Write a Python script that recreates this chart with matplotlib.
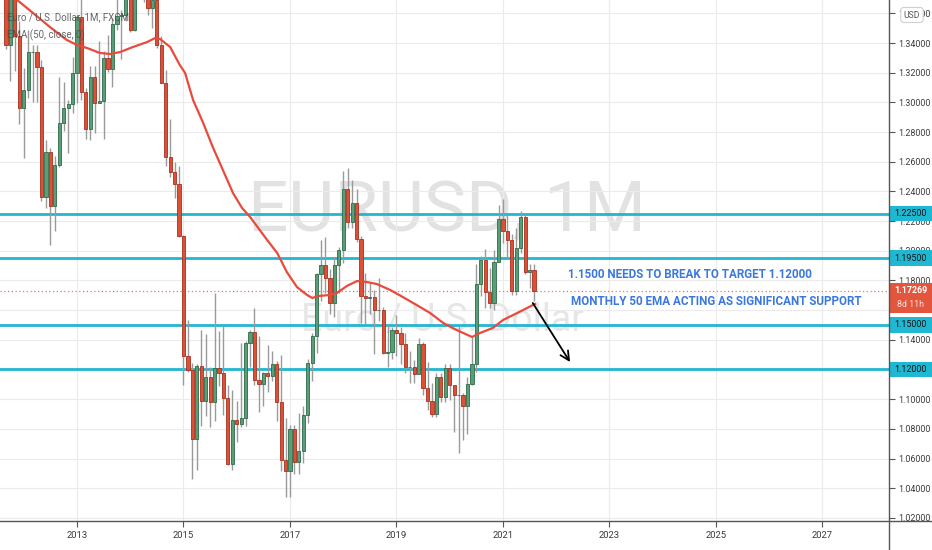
import matplotlib
matplotlib.use('Agg')
import matplotlib.pyplot as plt
from matplotlib.patches import Rectangle
from matplotlib.lines import Line2D
import matplotlib.transforms as mtransforms
import numpy as np

# monthly EURUSD candles
months = ['2011-09', '2011-10', '2011-11', '2011-12',
          '2012-01', '2012-02', '2012-03', '2012-04', '2012-05', '2012-06',
          '2012-07', '2012-08', '2012-09', '2012-10', '2012-11', '2012-12',
          '2013-01', '2013-02', '2013-03', '2013-04', '2013-05', '2013-06',
          '2013-07', '2013-08', '2013-09', '2013-10', '2013-11', '2013-12',
          '2014-01', '2014-02', '2014-03', '2014-04', '2014-05', '2014-06',
          '2014-07', '2014-08', '2014-09', '2014-10', '2014-11', '2014-12',
          '2015-01', '2015-02', '2015-03', '2015-04', '2015-05', '2015-06',
          '2015-07', '2015-08', '2015-09', '2015-10', '2015-11', '2015-12',
          '2016-01', '2016-02', '2016-03', '2016-04', '2016-05', '2016-06',
          '2016-07', '2016-08', '2016-09', '2016-10', '2016-11', '2016-12',
          '2017-01', '2017-02', '2017-03', '2017-04', '2017-05', '2017-06',
          '2017-07', '2017-08', '2017-09', '2017-10', '2017-11', '2017-12',
          '2018-01', '2018-02', '2018-03', '2018-04', '2018-05', '2018-06',
          '2018-07', '2018-08', '2018-09', '2018-10', '2018-11', '2018-12',
          '2019-01', '2019-02', '2019-03', '2019-04', '2019-05', '2019-06',
          '2019-07', '2019-08', '2019-09', '2019-10', '2019-11', '2019-12',
          '2020-01', '2020-02', '2020-03', '2020-04', '2020-05', '2020-06',
          '2020-07', '2020-08', '2020-09', '2020-10', '2020-11', '2020-12',
          '2021-01', '2021-02', '2021-03', '2021-04', '2021-05', '2021-06',
          '2021-07', '2021-08']

opens = [1.4398, 1.3387, 1.3866, 1.3447,
         1.2961, 1.3082, 1.3340, 1.3342, 1.3235, 1.2365, 1.2663, 1.2300, 1.2577, 1.2858, 1.2959, 1.2987,
         1.3196, 1.3576, 1.3069, 1.2818, 1.3168, 1.2998, 1.3010, 1.3302, 1.3222, 1.3525, 1.3584, 1.3592,
         1.3743, 1.3486, 1.3802, 1.3769, 1.3867, 1.3636, 1.3692, 1.3388, 1.3131, 1.2629, 1.2528, 1.2452,
         1.2098, 1.1290, 1.1196, 1.0731, 1.1224, 1.0985, 1.1146, 1.0982, 1.1212, 1.1177, 1.1006, 1.0566,
         1.0862, 1.0830, 1.0872, 1.1380, 1.1452, 1.1132, 1.1103, 1.1173, 1.1159, 1.1240, 1.0982, 1.0587,
         1.0517, 1.0800, 1.0574, 1.0652, 1.0895, 1.1243, 1.1426, 1.1843, 1.1906, 1.1814, 1.1647, 1.1903,
         1.2004, 1.2414, 1.2193, 1.2324, 1.2078, 1.1693, 1.1684, 1.1691, 1.1601, 1.1604, 1.1311, 1.1315,
         1.1467, 1.1448, 1.1370, 1.1217, 1.1215, 1.1170, 1.1370, 1.1075, 1.0989, 1.0899, 1.1152, 1.1017,
         1.1213, 1.1093, 1.1026, 1.1031, 1.0955, 1.1101, 1.1234, 1.1778, 1.1935, 1.1721, 1.1647, 1.1927,
         1.2216, 1.2136, 1.2074, 1.1728, 1.2019, 1.2228, 1.1858, 1.1870]

highs = [1.4520, 1.4248, 1.3875, 1.3549,
         1.3234, 1.3487, 1.3386, 1.3384, 1.3284, 1.2748, 1.2694, 1.2637, 1.3172, 1.3140, 1.3014, 1.3308,
         1.3590, 1.3711, 1.3096, 1.3243, 1.3242, 1.3416, 1.3345, 1.3452, 1.3568, 1.3832, 1.3622, 1.3893,
         1.3775, 1.3825, 1.3967, 1.3905, 1.3994, 1.3677, 1.3701, 1.3445, 1.3220, 1.2887, 1.2601, 1.2570,
         1.2104, 1.1534, 1.1245, 1.1240, 1.1466, 1.1436, 1.1216, 1.1714, 1.1460, 1.1495, 1.1095, 1.1059,
         1.0986, 1.1376, 1.1390, 1.1464, 1.1616, 1.1428, 1.1186, 1.1366, 1.1327, 1.1259, 1.1299, 1.0874,
         1.0829, 1.0829, 1.0906, 1.0951, 1.1268, 1.1445, 1.1847, 1.2070, 1.2092, 1.1880, 1.1961, 1.2023,
         1.2537, 1.2556, 1.2476, 1.2414, 1.2097, 1.1853, 1.1791, 1.1734, 1.1815, 1.1622, 1.1500, 1.1486,
         1.1570, 1.1489, 1.1448, 1.1324, 1.1264, 1.1412, 1.1386, 1.1250, 1.1109, 1.1179, 1.1176, 1.1239,
         1.1239, 1.1096, 1.1495, 1.1039, 1.1149, 1.1422, 1.1908, 1.1966, 1.2011, 1.1881, 1.2004, 1.2310,
         1.2349, 1.2243, 1.2113, 1.2150, 1.2266, 1.2254, 1.1909, 1.1908]

lows = [1.3361, 1.3146, 1.3211, 1.2857,
        1.2624, 1.3029, 1.3003, 1.3002, 1.2333, 1.2288, 1.2042, 1.2133, 1.2563, 1.2804, 1.2662, 1.2927,
        1.2998, 1.3019, 1.2750, 1.2745, 1.2795, 1.2993, 1.2755, 1.3206, 1.3104, 1.3487, 1.3295, 1.3549,
        1.3477, 1.3479, 1.3704, 1.3673, 1.3592, 1.3503, 1.3366, 1.3130, 1.2572, 1.2500, 1.2357, 1.2096,
        1.1098, 1.1185, 1.0462, 1.0520, 1.0819, 1.0889, 1.0809, 1.0850, 1.1087, 1.0896, 1.0558, 1.0522,
        1.0710, 1.0810, 1.0822, 1.1217, 1.1098, 1.0912, 1.0952, 1.1045, 1.1122, 1.0852, 1.0518, 1.0341,
        1.0340, 1.0494, 1.0495, 1.0570, 1.0839, 1.1119, 1.1312, 1.1662, 1.1717, 1.1575, 1.1554, 1.1717,
        1.1915, 1.2153, 1.2155, 1.2056, 1.1510, 1.1508, 1.1576, 1.1301, 1.1526, 1.1302, 1.1216, 1.1269,
        1.1289, 1.1234, 1.1176, 1.1110, 1.1107, 1.1168, 1.1028, 1.0927, 1.0879, 1.0879, 1.0981, 1.0981,
        1.0992, 1.0778, 1.0636, 1.0727, 1.0766, 1.1095, 1.1186, 1.1695, 1.1612, 1.1612, 1.1603, 1.1923,
        1.2055, 1.1952, 1.1704, 1.1704, 1.1986, 1.1844, 1.1752, 1.1664]

closes = [1.3387, 1.3866, 1.3447, 1.2961,
          1.3082, 1.3340, 1.3342, 1.3235, 1.2365, 1.2663, 1.2300, 1.2577, 1.2858, 1.2959, 1.2987, 1.3196,
          1.3576, 1.3069, 1.2818, 1.3168, 1.2998, 1.3010, 1.3302, 1.3222, 1.3525, 1.3584, 1.3592, 1.3743,
          1.3486, 1.3802, 1.3769, 1.3867, 1.3636, 1.3692, 1.3388, 1.3131, 1.2629, 1.2528, 1.2452, 1.2098,
          1.1290, 1.1196, 1.0731, 1.1224, 1.0985, 1.1146, 1.0982, 1.1212, 1.1177, 1.1006, 1.0566, 1.0862,
          1.0830, 1.0872, 1.1380, 1.1452, 1.1132, 1.1103, 1.1173, 1.1159, 1.1240, 1.0982, 1.0587, 1.0517,
          1.0800, 1.0574, 1.0652, 1.0895, 1.1243, 1.1426, 1.1843, 1.1906, 1.1814, 1.1647, 1.1903, 1.2004,
          1.2414, 1.2193, 1.2324, 1.2078, 1.1693, 1.1684, 1.1691, 1.1601, 1.1604, 1.1311, 1.1315, 1.1467,
          1.1448, 1.1370, 1.1217, 1.1215, 1.1170, 1.1370, 1.1075, 1.0989, 1.0899, 1.1152, 1.1017, 1.1213,
          1.1093, 1.1026, 1.1031, 1.0955, 1.1101, 1.1234, 1.1778, 1.1935, 1.1721, 1.1647, 1.1927, 1.2216,
          1.2136, 1.2074, 1.1728, 1.2019, 1.2228, 1.1858, 1.1870, 1.17269]

# EMA(50) (decimal year, price)
ema_x = [2011.55, 2011.875, 2012.175, 2012.49, 2012.81, 2013.0, 2013.19, 2013.43, 2013.62, 2013.81,
         2014.05, 2014.32, 2014.47, 2014.56, 2014.75, 2014.93, 2015.03, 2015.18, 2015.37, 2015.55,
         2015.74, 2015.93, 2016.10, 2016.25, 2016.57, 2016.76, 2016.94, 2017.13, 2017.32, 2017.42,
         2017.53, 2017.75, 2017.88, 2018.07, 2018.26, 2018.45, 2018.63, 2018.88, 2019.12, 2019.38,
         2019.63, 2019.88, 2020.13, 2020.42, 2020.57, 2020.81, 2021.0, 2021.27, 2021.60]
ema_y = [1.378, 1.369, 1.3602, 1.3508, 1.342, 1.3387, 1.3366, 1.3333, 1.3326, 1.3339,
         1.3373, 1.3407, 1.3434, 1.3427, 1.3373, 1.3252, 1.3198, 1.3016, 1.2861, 1.2699,
         1.2544, 1.2389, 1.2288, 1.2228, 1.2073, 1.1985, 1.1857, 1.1756, 1.1702, 1.1682,
         1.1695, 1.1702, 1.1715, 1.1763, 1.1796, 1.1789, 1.1776, 1.1736, 1.1688, 1.1634,
         1.1581, 1.1513, 1.1466, 1.1419, 1.1446, 1.1480, 1.1533, 1.1581, 1.1641]

levels = [1.22500, 1.19500, 1.15000, 1.12000]
last_price = 1.17269
countdown = '8d 11h'
note1 = '1.1500 NEEDS TO BREAK TO TARGET 1.12000'
note2 = 'MONTHLY 50 EMA ACTING AS SIGNIFICANT SUPPORT'
year_ticks = [2013, 2015, 2017, 2019, 2021, 2023, 2025, 2027]
price_ticks = [1.02, 1.04, 1.06, 1.08, 1.10, 1.12, 1.14, 1.16, 1.18, 1.20,
               1.22, 1.24, 1.26, 1.28, 1.30, 1.32, 1.34, 1.36]
hidden_ticks = [1.12, 1.16]   # sit fully under the level / price boxes

plt.rcParams['font.family'] = ['Roboto', 'DejaVu Sans']

x = np.array([int(m[:4]) + (int(m[5:]) - 1) / 12 for m in months])
o = np.array(opens)
h = np.array(highs)
l = np.array(lows)
c = np.array(closes)
up = c >= o

fig = plt.figure(figsize=(9.32, 5.5), dpi=100)
ax = fig.add_axes([0, 29 / 550, 889 / 932, 521 / 550])
ax.set_xlim(2011.554, 2028.25)
ax.set_ylim(1.01789, 1.36898)

# watermark
ax.text(0.503, 0.593, 'EURUSD, 1M', transform=ax.transAxes, ha='center', va='center',
        fontsize=51, color='#e2e2e2', zorder=0)
ax.text(0.498, 0.384, 'Euro / U.S. Dollar', transform=ax.transAxes, ha='center', va='center',
        fontsize=27, color='#e6e6e6', zorder=0)

ax.set_xticks(year_ticks)
ax.set_xticklabels([str(y) for y in year_ticks])
ax.set_yticks(price_ticks)
ax.set_yticklabels(['' if any(abs(p - q) < 1e-9 for q in hidden_ticks) else '%.5f' % p
                    for p in price_ticks])
ax.yaxis.tick_right()
ax.tick_params(axis='both', direction='out', length=4, width=0.8, color='#555555',
               labelcolor='#3a3a3a', labelsize=6.4, pad=3)
ax.tick_params(axis='x', labelsize=6.8)
ax.grid(True, color='#ebebeb', lw=0.8, zorder=0)
ax.set_axisbelow(True)
for s in ax.spines.values():
    s.set_visible(False)

# candles
ax.vlines(x, l, h, color='#9a9a9a', lw=1, zorder=3)
ax.bar(x[up], c[up] - o[up], bottom=o[up], width=0.06, color='#5a9e78',
       edgecolor='#2d6b4a', lw=0.6, zorder=4)
ax.bar(x[~up], c[~up] - o[~up], bottom=o[~up], width=0.06, color='#dc5036',
       edgecolor='#a8301e', lw=0.6, zorder=4)

# EMA
ax.plot(ema_x, ema_y, color='#ea4a3c', lw=1.6, zorder=5)

# horizontal levels
for lv in levels:
    ax.axhline(lv, color='#22b6d0', lw=2, zorder=2)
ax.axhline(last_price, color='#e8776a', lw=0.9, ls=(0, (1, 2)), zorder=2)

# notes and arrow
ax.text(2022.22, 1.1837, note1, color='#3a78de', fontsize=8.4, fontweight='bold',
        va='center', ha='left', zorder=6)
ax.text(2022.28, 1.1661, note2, color='#3a78de', fontsize=8.4, fontweight='bold',
        va='center', ha='left', zorder=6)
ax.annotate('', xy=(2022.26, 1.125), xytext=(2021.56, 1.1648),
            arrowprops=dict(arrowstyle='->', color='black', lw=1.3, mutation_scale=16,
                            shrinkA=0, shrinkB=0), zorder=6)

# axis lines running to the figure edge
fig.add_artist(Line2D([889 / 932, 889 / 932], [0, 1], color='#555555', lw=1))
fig.add_artist(Line2D([0, 1], [29 / 550, 29 / 550], color='#555555', lw=1))

# price scale labels
trans = mtransforms.blended_transform_factory(ax.transAxes, ax.transData)
box_w = 43 / 889
for lv in levels:
    ax.add_patch(Rectangle((1.0, lv - 0.0052), box_w, 0.0104, transform=trans,
                           facecolor='#1fb8d3', edgecolor='none', clip_on=False, zorder=10))
    ax.text(1.0 + box_w / 2, lv, '%.5f' % lv, transform=trans, ha='center', va='center',
            fontsize=6.4, color='#111111', clip_on=False, zorder=11)

ax.add_patch(Rectangle((1.0, 1.1581), box_w, 0.0202, transform=trans,
                       facecolor='#e4553e', edgecolor='none', clip_on=False, zorder=10))
ax.text(1.0 + box_w / 2, 1.1729, '%.5f' % last_price, transform=trans, ha='center',
        va='center', fontsize=6.4, fontweight='bold', color='white', clip_on=False, zorder=11)
ax.text(1.0 + box_w / 2, 1.1641, countdown, transform=trans, ha='center',
        va='center', fontsize=6.4, color='#ffe0da', clip_on=False, zorder=11)

# currency badge
fig.text(912 / 932, 1 - 15 / 550, 'USD', ha='center', va='center', fontsize=6.2, color='#555555',
         bbox=dict(boxstyle='round,pad=0.35', facecolor='white', edgecolor='#d0d0d0', lw=0.8),
         zorder=12)

# legend
fig.text(7 / 932, 1 - 17 / 550, 'Euro / U.S. Dollar, 1M, FXCM', ha='left', va='center',
         fontsize=7, color='#4a4a4a', alpha=0.85, zorder=12)
fig.text(7 / 932, 1 - 35 / 550, 'EMA (50, close, 0)', ha='left', va='center',
         fontsize=7, color='#4a4a4a', alpha=0.85, zorder=12)

fig.savefig('out.png', dpi=100)
